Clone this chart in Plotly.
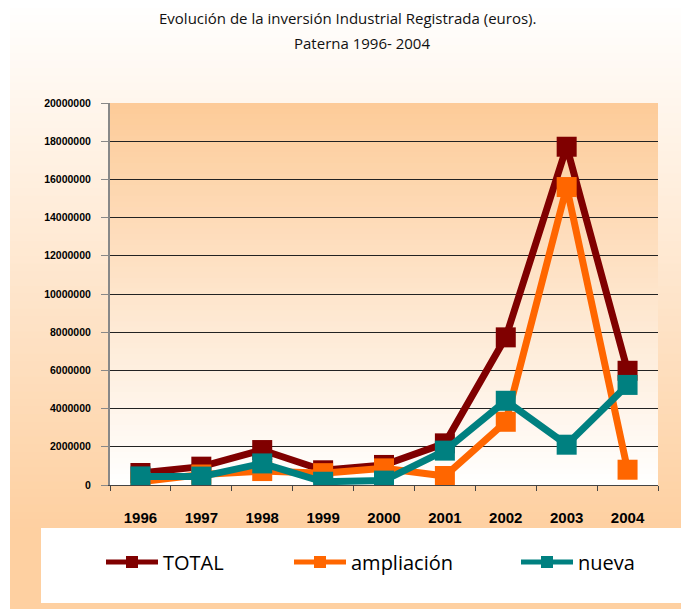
import plotly.graph_objects as go

years = ["1996", "1997", "1998", "1999", "2000", "2001", "2002", "2003", "2004"]
total = [630000, 960000, 1830000, 770000, 1050000, 2180000, 7730000, 17710000, 5980000]
ampliacion = [170000, 550000, 730000, 620000, 870000, 470000, 3310000, 15600000, 800000]
nueva = [450000, 440000, 1130000, 170000, 230000, 1800000, 4410000, 2110000, 5240000]

series_names = ["TOTAL", "ampliación", "nueva"]
series_colors = ["#800000", "#FF6600", "#008080"]

W, H = 689, 609
OFF = 8  # page body margin: figure origin sits at (8, 8) in the window
# plot area in window pixels: x 110..658, y 103..485
L, T = 110 - OFF, 103 - OFF
PW, PH = 548, 382
R = W - L - PW
B = H - T - PH


def px2x(px):
    """window pixel x -> paper x"""
    return (px - OFF - L) / PW


def px2y(py):
    """window pixel y -> paper y"""
    return (T + PH - (py - OFF)) / PH


def mix(c1, c2, t):
    return "rgb(%d,%d,%d)" % tuple(round(a + (b - a) * t) for a, b in zip(c1, c2))


WHITE = (255, 255, 255)
PEACH = (254, 208, 161)
PEACH2 = (253, 203, 152)

shapes = []
RIGHT = W + OFF
BOTTOM = H + OFF
# figure background gradient: white (top) -> peach (bottom)
N = 70
y0p, y1p = 0, 527
for i in range(N):
    a = y0p + (y1p - y0p) * i / N
    b = y0p + (y1p - y0p) * (i + 1) / N
    shapes.append(dict(type="rect", xref="paper", yref="paper", layer="below",
                       x0=px2x(10), x1=px2x(RIGHT), y0=px2y(a), y1=px2y(b + 0.8),
                       fillcolor=mix(WHITE, PEACH, (i + 0.5) / N), line_width=0))
shapes.append(dict(type="rect", xref="paper", yref="paper", layer="below",
                   x0=px2x(10), x1=px2x(RIGHT), y0=px2y(y1p), y1=px2y(BOTTOM),
                   fillcolor=mix(WHITE, PEACH, 1), line_width=0))
# plot area gradient: peach (top) -> white (bottom)
for i in range(N):
    a = 103 + PH * i / N
    b = 103 + PH * (i + 1) / N
    shapes.append(dict(type="rect", xref="paper", yref="paper", layer="below",
                       x0=0, x1=1, y0=px2y(a), y1=px2y(b + 0.8),
                       fillcolor=mix(PEACH2, WHITE, (i + 0.5) / N), line_width=0))
# legend white box
shapes.append(dict(type="rect", xref="paper", yref="paper", layer="below",
                   x0=px2x(41), x1=px2x(RIGHT), y0=px2y(528), y1=px2y(603),
                   fillcolor="white", line_width=0))

fig = go.Figure()
legend_ids = ["legend", "legend2", "legend3"]
for name, vals, color, lg in zip(series_names, [total, ampliacion, nueva], series_colors, legend_ids):
    fig.add_trace(go.Scatter(
        x=years, y=vals, name=name, mode="lines+markers",
        line=dict(color=color, width=7),
        marker=dict(symbol="square", size=20, color=color),
        legend=lg,
    ))

legend_font = dict(family="Open Sans", size=20, color="black")
legend_x = [101, 289, 516]
leg_common = dict(orientation="h", bgcolor="rgba(0,0,0,0)", font=legend_font,
                  yanchor="middle", xanchor="left", itemwidth=52, borderwidth=0,
                  itemsizing="constant")

fig.update_layout(
    width=W, height=H,
    margin=dict(l=L, r=R, t=T, b=B),
    paper_bgcolor="white",
    plot_bgcolor="rgba(0,0,0,0)",
    shapes=shapes,
    showlegend=True,
    legend=dict(x=px2x(legend_x[0]), y=px2y(562), **leg_common),
    legend2=dict(x=px2x(legend_x[1]), y=px2y(562), **leg_common),
    legend3=dict(x=px2x(legend_x[2]), y=px2y(562), **leg_common),
    annotations=[
        dict(text="Evolución de la inversión Industrial Registrada (euros).",
             xref="paper", yref="paper", x=px2x(347), y=px2y(18),
             xanchor="center", yanchor="middle", showarrow=False,
             font=dict(family="Open Sans", size=15, color="#111")),
        dict(text="Paterna 1996- 2004",
             xref="paper", yref="paper", x=px2x(362), y=px2y(43),
             xanchor="center", yanchor="middle", showarrow=False,
             font=dict(family="Open Sans", size=15, color="#111")),
    ],
)

fig.update_xaxes(
    type="category", range=[-0.5, 8.5],
    showgrid=False, showline=True, linecolor="#444", linewidth=1,
    ticks="outside", tickson="boundaries", ticklen=5, tickcolor="#444",
    tickfont=dict(family="Liberation Sans", size=15, color="black", weight="bold"),
    ticklabelstandoff=19,
)
fig.update_yaxes(
    range=[0, 20000000], dtick=2000000, tickformat="d",
    showgrid=True, gridcolor="#222", gridwidth=1,
    zeroline=False, showline=True, linecolor="#888", linewidth=2,
    ticks="outside", ticklen=7, tickcolor="#888",
    tickfont=dict(family="Liberation Sans", size=10.5, color="black", weight="bold"),
    ticklabelstandoff=8,
)

fig.write_html("out.html")
